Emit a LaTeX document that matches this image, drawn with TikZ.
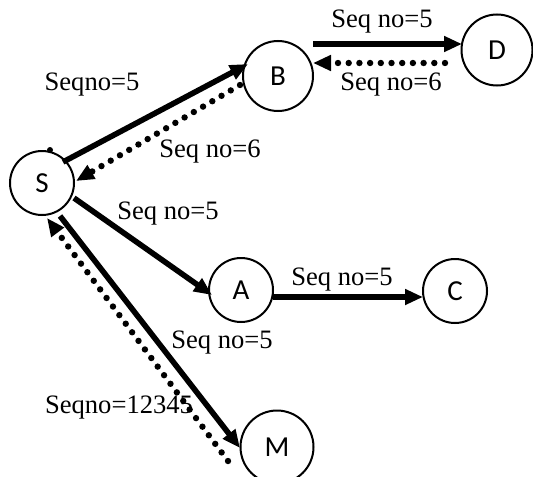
\documentclass[tikz,border=0pt]{standalone}
\usepackage{fontspec}
\setmainfont{Liberation Serif}
\newfontfamily\nodefont{Carlito}
\usetikzlibrary{arrows.meta}
\begin{document}
\begin{tikzpicture}[x=0.5pt,y=-0.5pt,
  vtx/.style={circle,draw,line width=1pt,inner sep=0pt,font=\nodefont\fontsize{14.5}{16}\selectfont},
  lbl/.style={inner sep=0pt,font=\fontsize{13.3}{15}\selectfont},
  solidarrow/.style={line width=2.8pt,-{Triangle[length=9pt,width=7.5pt]}},
  dotarrow/.style={line width=3.2pt,line cap=round,dash pattern=on 0pt off 5.35pt,-{Triangle[length=9pt,width=7.5pt]}}]
\clip (0,0) rectangle (533,476);
\node[vtx,minimum size=32pt] (S) at (42,183) {S};
\node[vtx,minimum size=35pt] (B) at (278,76) {B};
\node[vtx,minimum size=35.5pt] (D) at (497,50) {D};
\node[vtx,minimum size=32pt] (A) at (241,290) {A};
\node[vtx,minimum size=32pt] (C) at (455,291) {C};
\node[vtx,minimum size=36.5pt] (M) at (277,447) {M};
% connectors
\draw[solidarrow] ([shift={(21,-21)}]S.center) -- ([shift={(-30,-12)}]B.center);
\draw[dotarrow] ([shift={(-38,9)}]B.center) -- ([shift={(34,-2)}]S.center);
\draw[solidarrow] ([shift={(35,-32)}]B.center) -- ([shift={(-35,-6)}]D.center);
\draw[dotarrow] ([shift={(-52,13)}]D.center) -- ([shift={(35,-13)}]B.center);
\draw[solidarrow] ([shift={(32,15)}]S.center) -- ([shift={(-29,5)}]A.center);
\draw[solidarrow] ([shift={(32,7)}]A.center) -- ([shift={(-32,6)}]C.center);
\draw[solidarrow] ([shift={(18,33)}]S.center) -- ([shift={(-37,1)}]M.center);
\draw[dotarrow] ([shift={(-49,14)}]M.center) -- ([shift={(5,35)}]S.center);
\fill ([shift={(8,-33)}]S.center) circle (3);
% labels
\node[lbl] (l1) at (92,85) {Seqno=5};
\node[lbl] (l2) at (210,152) {Seq no=6};
\node[lbl] (l3) at (168,214) {Seq no=5};
\node[lbl] (l4) at (382,22) {Seq no=5};
\node[lbl] (l5) at (391,85) {Seq no=6};
\node[lbl] (l6) at (342,280) {Seq no=5};
\node[lbl] (l7) at (222,343) {Seq no=5};
\node[lbl] (l8) at (119,408) {Seqno=12345};
\end{tikzpicture}
\end{document}
